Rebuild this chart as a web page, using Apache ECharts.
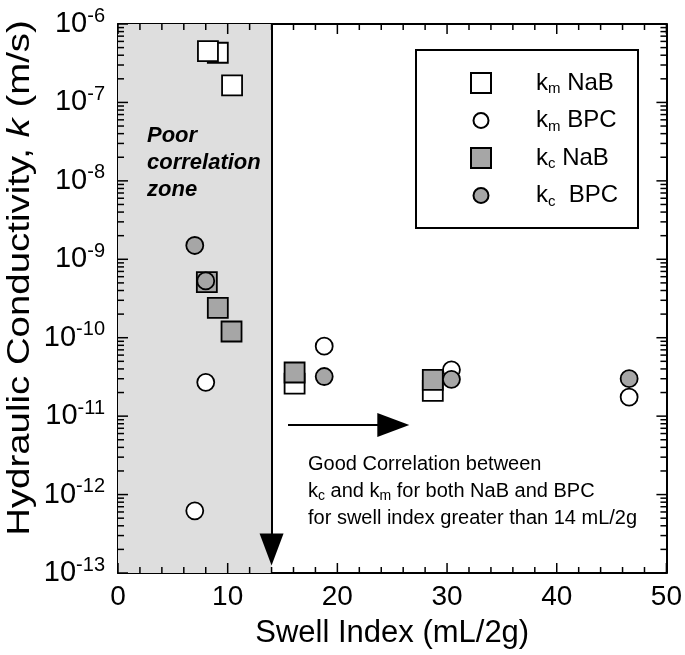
<!DOCTYPE html>
<html>
<head>
<meta charset="utf-8">
<script src="https://cdn.jsdelivr.net/npm/echarts@6/dist/echarts.min.js"></script>
<style>
html, body { margin: 0; padding: 0; background: #fff; }
#chart { width: 685px; height: 655px; }
</style>
</head>
<body>
<div id="chart"></div>
<script>
// swell index (mL/2g) vs hydraulic conductivity (m/s)
var kmNaB = [[9.1, 4.3e-7], [8.2, 4.5e-7], [10.4, 1.65e-7], [16.1, 2.6e-11], [28.7, 2.1e-11]];
var kmBPC = [[8.0, 2.7e-11], [7.0, 6.2e-13], [18.8, 7.8e-11], [30.4, 3.9e-11], [46.6, 1.75e-11]];
var kcNaB = [[8.1, 5.1e-10], [9.1, 2.4e-10], [10.35, 1.2e-10], [16.1, 3.6e-11], [28.7, 2.9e-11]];
var kcBPC = [[7.0, 1.5e-9], [8.0, 5.3e-10], [18.8, 3.2e-11], [30.4, 2.95e-11], [46.6, 3.0e-11]];

var xTicks = [0, 10, 20, 30, 40, 50];
var yDecades = [-13, -12, -11, -10, -9, -8, -7, -6];
var poorZone = [0, 14];

var FONT = '"Liberation Sans", Arial, Helvetica, sans-serif';
var grey = '#a6a6a6';
var xMin = xTicks[0], xMax = xTicks[xTicks.length - 1];
var yMin = Math.pow(10, yDecades[0]), yMax = Math.pow(10, yDecades[yDecades.length - 1]);

// tick marks as small bars on all four sides of the frame
function tick(x, y, side, len) {
    var w = 1.5;
    if (side === 'left') return { value: [x, y], symbolSize: [len, w], symbolOffset: [len / 2, 0] };
    if (side === 'right') return { value: [x, y], symbolSize: [len, w], symbolOffset: [-len / 2, 0] };
    if (side === 'bottom') return { value: [x, y], symbolSize: [w, len], symbolOffset: [0, -len / 2] };
    return { value: [x, y], symbolSize: [w, len], symbolOffset: [0, len / 2] };
}
var tickData = [];
for (var d = yDecades[0]; d <= yDecades[yDecades.length - 1]; d++) {
    tickData.push(tick(xMin, Math.pow(10, d), 'left', 10));
    tickData.push(tick(xMax, Math.pow(10, d), 'right', 10));
    if (d < yDecades[yDecades.length - 1]) {
        for (var m = 2; m <= 9; m++) {
            tickData.push(tick(xMin, m * Math.pow(10, d), 'left', 6));
            tickData.push(tick(xMax, m * Math.pow(10, d), 'right', 6));
        }
    }
}
for (var xv = xMin; xv <= xMax; xv += 2) {
    tickData.push(tick(xv, yMin, 'bottom', xv % 10 === 0 ? 10 : 6));
    tickData.push(tick(xv, yMax, 'top', xv % 10 === 0 ? 10 : 6));
}

var legendNames = {
    'km NaB': '{k|k}{sub|m}{t| NaB}',
    'km BPC': '{k|k}{sub|m}{t| BPC}',
    'kc NaB': '{k|k}{sub|c}{t| NaB}',
    'kc BPC': '{k|k}{sub|c}{t|  BPC}'
};

var circleIcon = 'path://M0 0M20 20M10 2.5A7.5 7.5 0 1 1 10 17.5A7.5 7.5 0 1 1 10 2.5Z';

var chart = echarts.init(document.getElementById('chart'));

var xBase = {
    type: 'value',
    min: xMin,
    max: xMax,
    interval: 10,
    axisLine: { show: true, onZero: false, lineStyle: { color: '#000', width: 2 } },
    axisTick: { show: false },
    splitLine: { show: false }
};

var yBase = {
    type: 'log',
    logBase: 10,
    min: yMin,
    max: yMax,
    axisLine: { show: true, onZero: false, lineStyle: { color: '#000', width: 2 } },
    axisTick: { show: false },
    splitLine: { show: false }
};

var option = {
    animation: false,
    grid: { left: 118, right: 16, top: 24, bottom: 82 },
    xAxis: [
        Object.assign({}, xBase, {
            position: 'bottom',
            name: 'Swell Index (mL/2g)',
            nameLocation: 'middle',
            nameGap: 45,
            nameTextStyle: { fontSize: 31, color: '#000', fontFamily: FONT },
            axisLabel: { margin: 10, fontSize: 28, color: '#000', fontFamily: FONT }
        }),
        Object.assign({}, xBase, { position: 'top', axisLabel: { show: false } })
    ],
    yAxis: [
        Object.assign({}, yBase, {
            position: 'left',
            axisLabel: {
                margin: 13,
                color: '#000',
                formatter: function (v) {
                    var e = Math.round(Math.log(v) / Math.LN10);
                    return '{b|10}{s|' + e + '}';
                },
                rich: {
                    b: { fontSize: 29, fontFamily: FONT, color: '#000' },
                    s: { fontSize: 20, fontFamily: FONT, color: '#000', padding: [0, 0, 16, 0] }
                }
            }
        }),
        Object.assign({}, yBase, { position: 'right', axisLabel: { show: false } })
    ],
    legend: {
        orient: 'vertical',
        left: 470,
        top: 71,
        padding: 0,
        itemWidth: 20,
        itemHeight: 20,
        itemGap: 12,
        selectedMode: false,
        data: [
            { name: 'km NaB', icon: 'rect' },
            { name: 'km BPC', icon: circleIcon },
            { name: 'kc NaB', icon: 'rect' },
            { name: 'kc BPC', icon: circleIcon }
        ],
        formatter: function (name) { return legendNames[name]; },
        textStyle: {
            color: '#000',
            rich: {
                k: { fontSize: 24, fontFamily: FONT, color: '#000', padding: [0, 0, 0, 40] },
                sub: { fontSize: 15, fontFamily: FONT, color: '#000', padding: [12, 0, 0, 0] },
                t: { fontSize: 24, fontFamily: FONT, color: '#000' }
            }
        }
    },
    graphic: [
        {
            type: 'rect',
            shape: { x: 416, y: 50, width: 222, height: 178 },
            style: { fill: 'none', stroke: '#000', lineWidth: 2 },
            z: 100
        },
        {
            type: 'text',
            x: 20,
            y: 278,
            rotation: Math.PI / 2,
            scaleX: 1.2,
            style: {
                text: '{n|Hydraulic Conductivity, }{i|k}{n| (m/s)}',
                align: 'center',
                verticalAlign: 'middle',
                rich: {
                    n: { fontSize: 32, fontFamily: FONT, fill: '#000' },
                    i: { fontSize: 32, fontFamily: FONT, fontStyle: 'italic', fill: '#000' }
                }
            },
            z: 100
        },
        {
            type: 'text',
            left: 147,
            top: 122,
            style: {
                text: 'Poor\ncorrelation\nzone',
                font: 'italic bold 22px ' + FONT,
                lineHeight: 27,
                fill: '#000'
            },
            z: 100
        },
        {
            type: 'text',
            left: 308,
            top: 454,
            style: {
                text: '{t|Good Correlation between}\n{t|k}{s|c}{t| and k}{s|m}{t| for both NaB and BPC}\n{t|for swell index greater than 14 mL/2g}',
                rich: {
                    t: { fontSize: 20, fontFamily: FONT, fill: '#000', lineHeight: 27 },
                    s: { fontSize: 14, fontFamily: FONT, fill: '#000', padding: [10, 0, 0, 0], lineHeight: 27 }
                }
            },
            z: 100
        }
    ],
    series: [
        {
            name: 'km NaB',
            type: 'scatter',
            symbol: 'rect',
            symbolSize: 20,
            data: kmNaB,
            itemStyle: { color: '#fff', borderColor: '#000', borderWidth: 1.8, opacity: 1 },
            emphasis: { disabled: true },
            markArea: {
                silent: true,
                itemStyle: { color: '#dedede' },
                data: [[
                    { xAxis: poorZone[0], yAxis: yMin },
                    { xAxis: poorZone[1], yAxis: yMax }
                ]]
            },
            markLine: {
                silent: true,
                symbol: ['none', 'triangle'],
                label: { show: false },
                lineStyle: { color: '#000', width: 2, type: 'solid' },
                data: [
                    [
                        { coord: [poorZone[1], yMax], symbol: 'none' },
                        { coord: [poorZone[1], 2.0e-13], symbol: 'triangle', symbolSize: [24, 32] }
                    ],
                    [
                        { coord: [15.5, 7.7e-12], symbol: 'none' },
                        { coord: [25.1, 7.7e-12], symbol: 'triangle', symbolSize: [24, 32] }
                    ]
                ]
            }
        },
        {
            name: 'km BPC',
            type: 'scatter',
            symbol: 'circle',
            symbolSize: 17,
            data: kmBPC,
            itemStyle: { color: '#fff', borderColor: '#000', borderWidth: 1.8, opacity: 1 },
            emphasis: { disabled: true }
        },
        {
            name: 'kc NaB',
            type: 'scatter',
            symbol: 'rect',
            symbolSize: 20,
            data: kcNaB,
            itemStyle: { color: grey, borderColor: '#000', borderWidth: 1.8, opacity: 1 },
            emphasis: { disabled: true }
        },
        {
            name: 'kc BPC',
            type: 'scatter',
            symbol: 'circle',
            symbolSize: 17,
            data: kcBPC,
            itemStyle: { color: grey, borderColor: '#000', borderWidth: 1.8, opacity: 1 },
            emphasis: { disabled: true }
        },
        {
            name: 'ticks',
            type: 'scatter',
            symbol: 'rect',
            silent: true,
            clip: false,
            z: 10,
            data: tickData,
            itemStyle: { color: '#000', borderWidth: 0, opacity: 1 },
            emphasis: { disabled: true }
        }
    ]
};

chart.setOption(option);
</script>
</body>
</html>
